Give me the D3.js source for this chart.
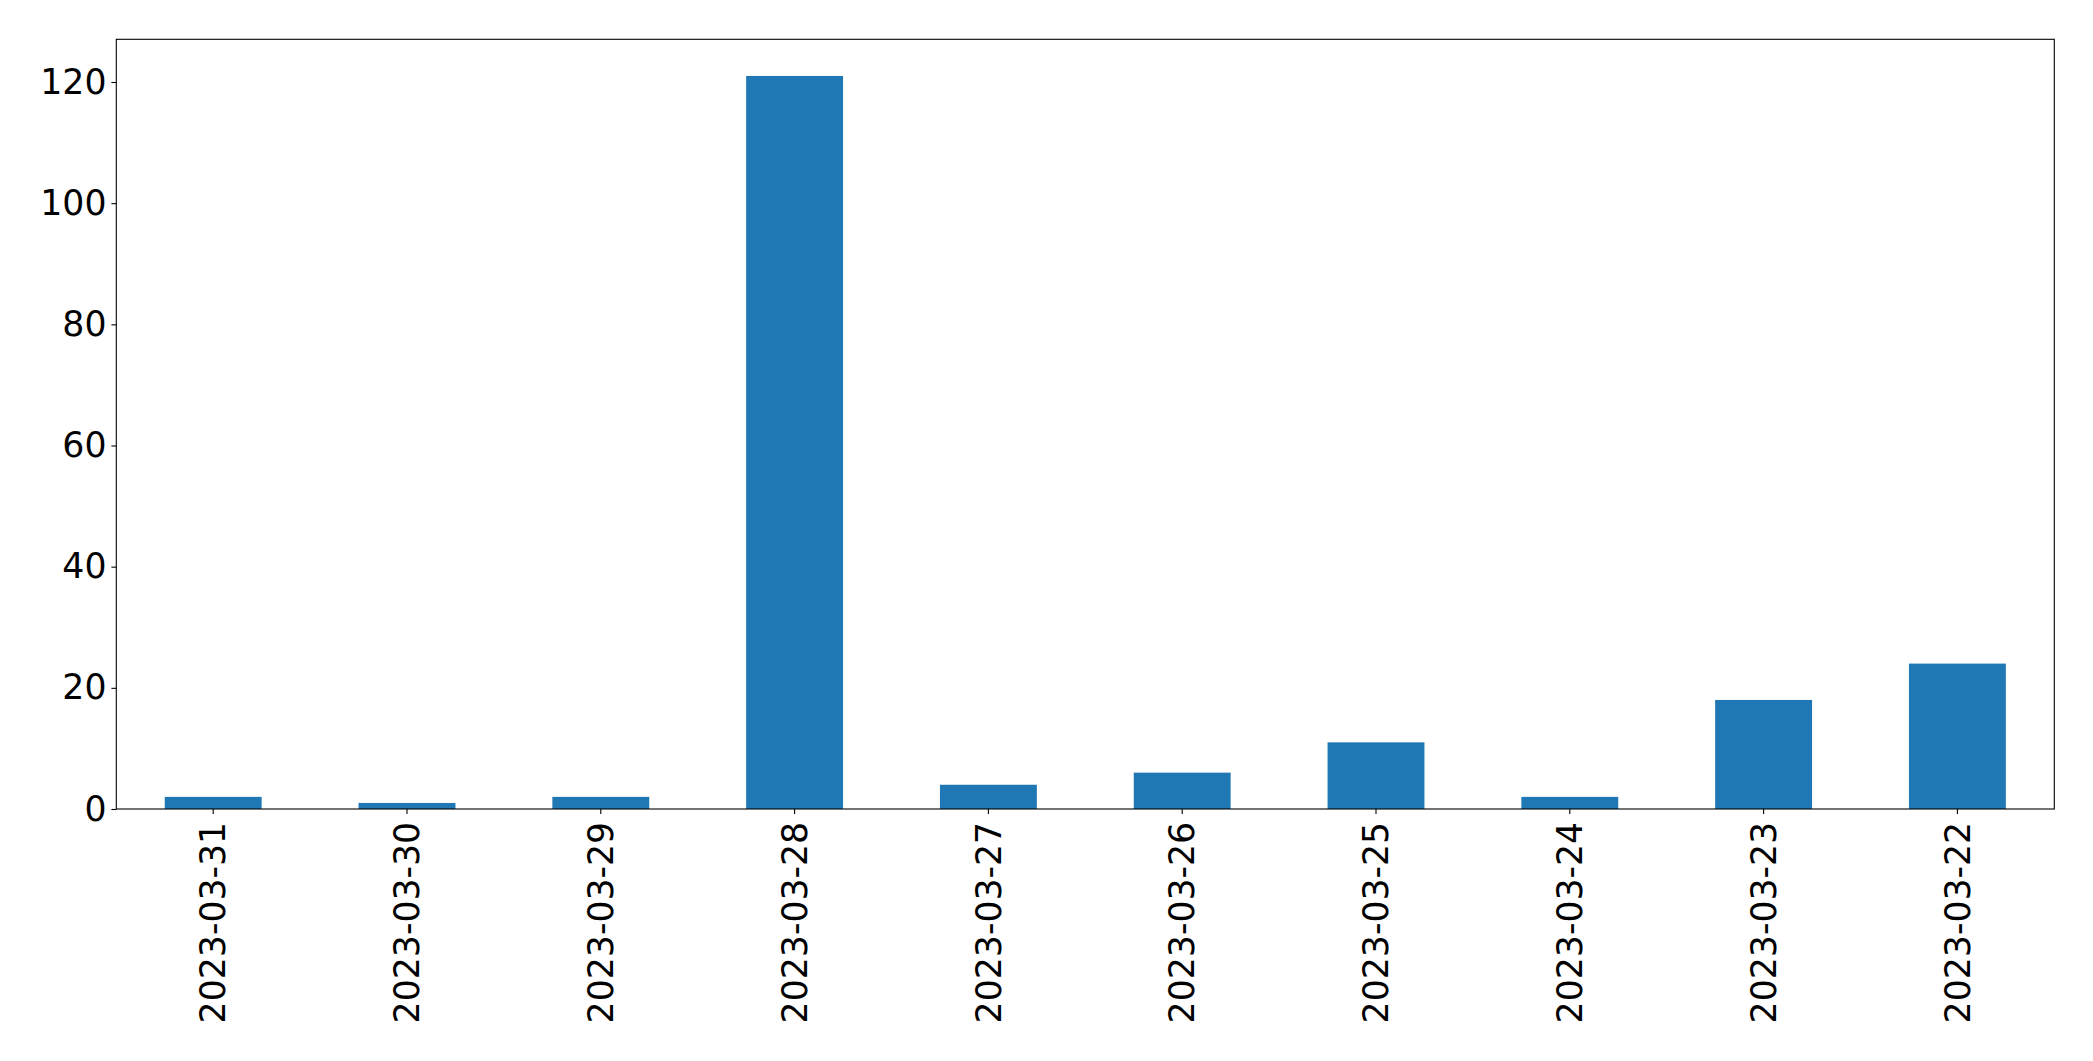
<!DOCTYPE html>
<html>
<head>
<meta charset="utf-8">
<script src="https://cdn.jsdelivr.net/npm/d3@7"></script>
<style>
  html, body { margin: 0; padding: 0; background: #fff; }
  svg { display: block; }
  text { font-family: "DejaVu Sans", sans-serif; fill: #000; }
</style>
</head>
<body>
<svg id="chart" width="2093" height="1061"></svg>
<script>
const categories = ["2023-03-31","2023-03-30","2023-03-29","2023-03-28","2023-03-27","2023-03-26","2023-03-25","2023-03-24","2023-03-23","2023-03-22"];
const values = [2, 1, 2, 121, 4, 6, 11, 2, 18, 24];
const yTicks = [0, 20, 40, 60, 80, 100, 120];

const W = 2093, H = 1061;
const margin = { left: 116.3, right: W - 2054.3, top: 39.3, bottom: H - 809 };
const fontSize = 34.7;
const tickLen = 4.9, tickPad = 4.9;

const svg = d3.select("#chart");
const iw = W - margin.left - margin.right;
const ih = H - margin.top - margin.bottom;
const g = svg.append("g").attr("transform", `translate(${margin.left},${margin.top})`);

const yMax = d3.max(values) * 1.05;
const y = d3.scaleLinear().domain([0, yMax]).range([ih, 0]);
const x = d3.scaleBand().domain(categories).range([0, iw]).paddingInner(0.5).paddingOuter(0.25);

g.selectAll("rect.bar").data(values).join("rect")
  .attr("class", "bar")
  .attr("x", (d, i) => x(categories[i]))
  .attr("y", d => y(d))
  .attr("width", x.bandwidth())
  .attr("height", d => y(0) - y(d))
  .attr("fill", "#1f77b4");

// Y axis
const yAxis = d3.axisLeft(y).tickValues(yTicks).tickSize(tickLen).tickPadding(tickPad).tickFormat(d3.format("d"));
const yg = g.append("g").call(yAxis);
yg.select(".domain").remove();
yg.selectAll(".tick line").attr("stroke", "#000").attr("stroke-width", 1.1);
yg.selectAll(".tick text").style("font-size", fontSize + "px").style("font-family", '"DejaVu Sans", sans-serif').attr("fill", "#000");

// X axis
const xAxis = d3.axisBottom(x).tickSize(tickLen).tickPadding(tickPad);
const xg = g.append("g").attr("transform", `translate(0,${ih})`).call(xAxis);
xg.select(".domain").remove();
xg.selectAll(".tick line").attr("stroke", "#000").attr("stroke-width", 1.1);
xg.selectAll(".tick text")
  .style("font-size", fontSize + "px")
  .style("font-family", '"DejaVu Sans", sans-serif')
  .attr("fill", "#000")
  .attr("text-anchor", "end")
  .attr("transform", `translate(0,${tickLen + tickPad + 3}) rotate(-90)`)
  .attr("x", 0)
  .attr("y", 0)
  .attr("dy", "0.35em");

// Frame
g.append("rect").attr("x", 0).attr("y", 0).attr("width", iw).attr("height", ih)
  .attr("fill", "none").attr("stroke", "#000").attr("stroke-width", 1.1);
</script>
</body>
</html>
